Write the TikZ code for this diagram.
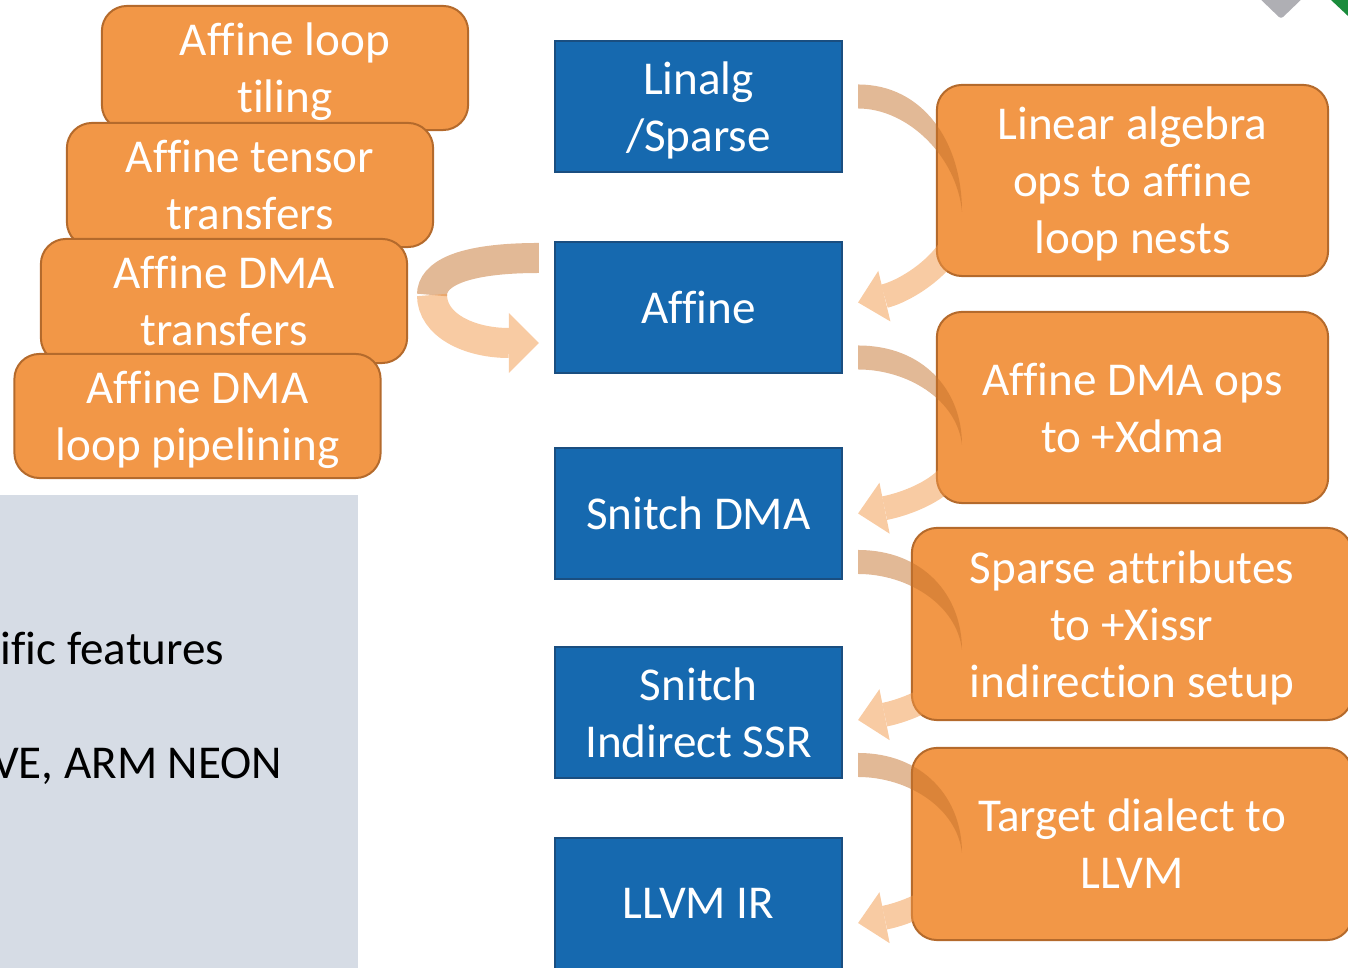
\documentclass[tikz,border=0pt]{standalone}
\usepackage{fontspec}
\setmainfont{Carlito}[Ligatures=NoCommon]
\usetikzlibrary{arrows.meta}
\definecolor{dialectblue}{RGB}{22,105,175}
\definecolor{dialectedge}{RGB}{26,78,128}
\definecolor{passorange}{RGB}{242,151,71}
\definecolor{passedge}{RGB}{180,106,44}
\definecolor{bandbrown}{RGB}{197,115,45}
\definecolor{panelgray}{RGB}{214,220,229}
\definecolor{markgray}{RGB}{175,175,180}
\definecolor{markgreen}{RGB}{26,140,60}
\newcommand{\slidefont}{\fontsize{13.4}{16.2}\selectfont}
\tikzset{
  boxtext/.style={inner sep=0pt,align=center,font=\slidefont,text depth=0pt},
  dialect/.style={boxtext,rectangle,draw=dialectedge,line width=0.02cm,
    fill=dialectblue,text=white,minimum width=2.87cm,minimum height=1.31cm},
  pass/.style={boxtext,rectangle,rounded corners=0.25cm,draw=passedge,
    line width=0.02cm,fill=passorange,text=white},
  bandback/.style={line width=0.3cm,draw=bandbrown,opacity=0.5},
  bandfront/.style={line width=0.24cm,color=passorange,
    -{Triangle[length=0.27cm,width=0.52cm,line width=0pt]}},
}

\begin{document}
\begin{tikzpicture}[x=0.01cm,y=-0.01cm]
  \useasboundingbox (0,0) rectangle (1348,968);
  \clip (0,0) rectangle (1348,968);

  % corner marks
  \fill[markgray,rounded corners=0.03cm] (1255,-6) -- (1281,19) -- (1307,-6) -- cycle;
  \fill[markgreen] (1331,0) -- (1348,0) -- (1348,16) -- cycle;

  % panel
  \fill[panelgray] (0,495) rectangle (358,968);
  \node[anchor=base east,inner sep=0pt,font=\slidefont] (feat) at (225,665) {ific features};
  \node[anchor=base east,inner sep=0pt,font=\slidefont] (neon) at (283,779) {VE, ARM NEON};

  % dialects
  \node[dialect] (linalg) at (698.5,106.5) {Linalg\\/Sparse};
  \node[dialect] (affine) at (698.5,307.5) {Affine};
  \node[dialect] (snitchdma) at (698.5,513.5) {Snitch DMA};
  \node[dialect] (ssr) at (698.5,712.5) {Snitch\\Indirect SSR};
  \node[dialect] (llvmir) at (698.5,903.5) {LLVM IR};

  % affine passes
  \node[pass,minimum width=3.66cm,minimum height=1.24cm] (tiling) at (285,68) {Affine loop\\tiling};
  \node[pass,minimum width=3.66cm,minimum height=1.24cm] (tensor) at (250,185) {Affine tensor\\transfers};
  \node[pass,minimum width=3.66cm,minimum height=1.24cm] (dmaxfer) at (224,301) {Affine DMA\\transfers};
  \node[pass,minimum width=3.66cm,minimum height=1.24cm] (pipeline) at (197.5,416) {Affine DMA\\loop pipelining};

  % lowerings
  \node[pass,minimum width=3.91cm,minimum height=1.91cm] (tolinalg) at (1132.5,180.5) {Linear algebra\\ops to affine\\loop nests};
  \node[pass,minimum width=3.91cm,minimum height=1.91cm] (toxdma) at (1132.5,407.5) {Affine DMA ops\\to +Xdma};
  \node[pass,minimum width=4.40cm,minimum height=1.92cm] (toxissr) at (1132,624) {Sparse attributes\\to +Xissr\\indirection setup};
  \node[pass,minimum width=4.40cm,minimum height=1.92cm] (tollvm) at (1132,844) {Target dialect to\\LLVM};

  % turning points
  \coordinate (turnA) at (962,212);
  \coordinate (turnB) at (962,445);
  \coordinate (turnC) at (962,650);
  \coordinate (turnD) at (962,853);
  \coordinate (turnL) at (432,295);

  % curved arrows, back face
  \fill[bandbrown,opacity=0.5] ([shift={(15,-22)}]linalg.east) .. controls +(65,0) and +(0,-70) .. (turnA)
    .. controls +(-5,-55) and +(50,0) .. ([shift={(15,2)}]linalg.east) -- cycle;
  \fill[bandbrown,opacity=0.5] ([shift={(15,38)}]affine.east) .. controls +(65,0) and +(0,-55) .. (turnB)
    .. controls +(-5,-45) and +(50,0) .. ([shift={(15,62)}]affine.east) -- cycle;
  \fill[bandbrown,opacity=0.5] ([shift={(15,36.5)}]snitchdma.east) .. controls +(65,0) and +(0,-55) .. (turnC)
    .. controls +(-5,-45) and +(50,0) .. ([shift={(15,60.5)}]snitchdma.east) -- cycle;
  \fill[bandbrown,opacity=0.5] ([shift={(15,40.5)}]ssr.east) .. controls +(65,0) and +(0,-55) .. (turnD)
    .. controls +(-5,-45) and +(50,0) .. ([shift={(15,64.5)}]ssr.east) -- cycle;
  \draw[bandback] ([shift={(-15,-49.5)}]affine.west) .. controls +(-80,0) and +(0,-20) .. (turnL);

  % curved arrows, front face
  \begin{scope}[transparency group,opacity=0.5]
    \draw[bandfront] (turnA) .. controls +(0,45) and +(50,-12) .. ([shift={(15,-5)}]affine.east);
    \draw[bandfront] (turnB) .. controls +(0,40) and +(50,-10) .. ([shift={(15,0)}]snitchdma.east);
    \draw[bandfront] (turnC) .. controls +(0,40) and +(50,-10) .. ([shift={(15,7.5)}]ssr.east);
    \draw[bandfront] (turnD) .. controls +(0,40) and +(50,-10) .. ([shift={(15,19.5)}]llvmir.east);
    \draw[bandfront,line width=0.3cm,-{Triangle[length=0.3cm,width=0.6cm,line width=0pt]}]
      (turnL) .. controls +(0,30) and +(-70,0) .. ([shift={(-15,35.5)}]affine.west);
  \end{scope}
\end{tikzpicture}
\end{document}
